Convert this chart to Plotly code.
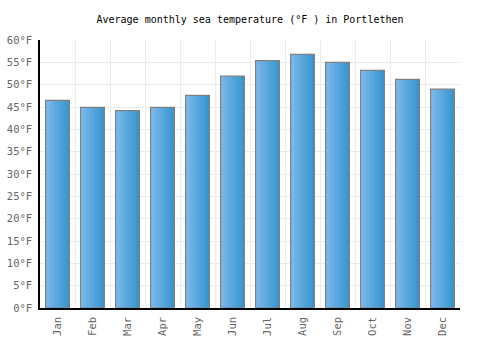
import plotly.graph_objects as go

months = ["Jan", "Feb", "Mar", "Apr", "May", "Jun", "Jul", "Aug", "Sep", "Oct", "Nov", "Dec"]
temps_f = [46.5, 44.9, 44.2, 44.9, 47.6, 51.9, 55.4, 56.8, 55.0, 53.2, 51.2, 49.0]
y_ticks = list(range(0, 61, 5))
y_tick_text = [f"{v}°F" for v in y_ticks]

fig = go.Figure()

bw = 0.68
n_slices = 14
c0 = (124, 186, 236)
c1 = (56, 149, 207)
for k in range(n_slices):
    t = k / (n_slices - 1)
    col = tuple(round(a + (b - a) * t) for a, b in zip(c0, c1))
    fig.add_trace(go.Bar(
        x=months, y=temps_f,
        width=bw / n_slices + 0.002,
        offset=-bw / 2 + k * bw / n_slices,
        marker=dict(color=f"rgb{col}", line=dict(width=0)),
        hoverinfo="skip", showlegend=False,
    ))
fig.add_trace(go.Bar(
    x=months, y=temps_f, width=bw, offset=-bw / 2,
    marker=dict(color="rgba(0,0,0,0)", line=dict(color="#808080", width=1.2)),
    showlegend=False,
))

font = "DejaVu Sans Mono"
fig.update_layout(
    width=500, height=350,
    margin=dict(l=40, r=40, t=40, b=42),
    paper_bgcolor="white", plot_bgcolor="white",
    barmode="overlay",
    title=dict(text="Average monthly sea temperature (°F ) in Portlethen",
               x=0.5, xanchor="center", y=0.945, yanchor="middle",
               font=dict(family=font, size=10, color="#000")),
    xaxis=dict(type="category", tickson="boundaries", showgrid=True, gridcolor="#ececec",
               gridwidth=1, showline=True, linecolor="#000", linewidth=1.5,
               ticks="", tickangle=-90, ticklabelstandoff=3, automargin=False,
               tickfont=dict(family=font, size=10.5, color="#666"), range=[-0.5, 11.5]),
    yaxis=dict(range=[0, 60], tickvals=y_ticks, ticktext=y_tick_text,
               showgrid=True, gridcolor="#ececec", gridwidth=1,
               showline=True, linecolor="#000", linewidth=1.5, ticks="",
               zeroline=False, ticklabelstandoff=4, automargin=False,
               tickfont=dict(family=font, size=10.5, color="#666")),
)

fig.write_html("out.html")
